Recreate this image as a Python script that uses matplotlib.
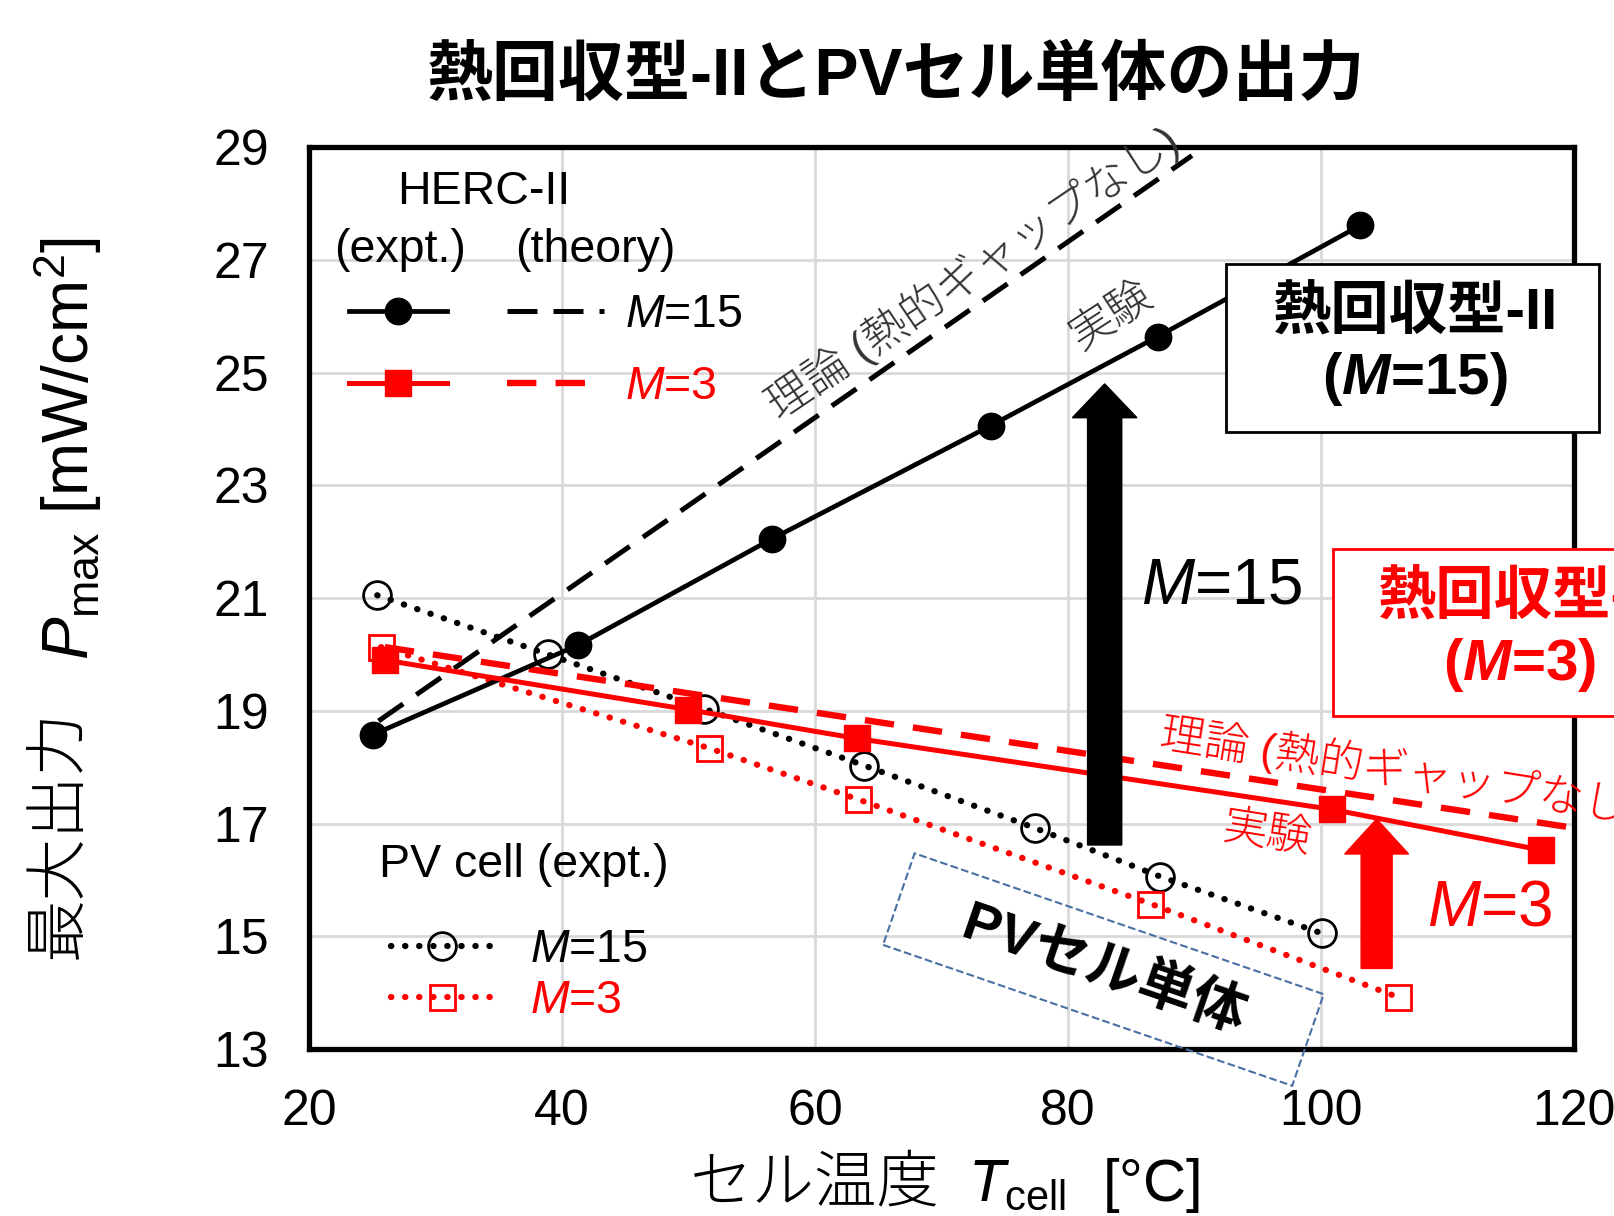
import matplotlib
matplotlib.use("Agg")
import matplotlib.pyplot as plt
from matplotlib.patches import Rectangle, FancyArrow

plt.rcParams['font.family'] = ['Liberation Sans', 'Noto Sans CJK JP']
plt.rcParams['mathtext.fontset'] = 'custom'
plt.rcParams['mathtext.rm'] = 'Liberation Sans'
plt.rcParams['mathtext.it'] = 'Liberation Sans:italic'
plt.rcParams['mathtext.bf'] = 'Liberation Sans:bold'
plt.rcParams['mathtext.bfit'] = 'Liberation Sans:bold:italic'

# HERC-II experiment / theory and PV cell alone (cell temperature vs Pmax)
herc15_t = [25.1, 41.3, 56.6, 73.9, 87.1, 103.1]
herc15_p = [18.58, 20.17, 22.05, 24.06, 25.64, 27.61]
herc3_t = [26.0, 50.0, 63.3, 100.9, 117.4]
herc3_p = [19.90, 19.02, 18.51, 17.25, 16.53]
theory15_t = [25.5, 89.8]
theory15_p = [18.82, 28.85]
theory3_t = [26.0, 119.8]
theory3_p = [20.13, 16.93]
pv15_t = [25.4, 38.9, 51.2, 63.9, 77.4, 87.3, 100.1]
pv15_p = [21.05, 20.00, 19.04, 18.03, 16.92, 16.06, 15.05]
pv3_t = [25.7, 51.6, 63.4, 86.5, 106.1]
pv3_p = [20.13, 18.34, 17.43, 15.58, 13.92]

x_ticks = [20, 40, 60, 80, 100, 120]
y_ticks = [13, 15, 17, 19, 21, 23, 25, 27, 29]

RED = '#ff0000'
LEG_FS = 33.5

fig = plt.figure(figsize=(16.15, 12.16), dpi=100)
ax = fig.add_axes([0.1913, 0.1373, 0.7833, 0.7417])

# pv cell alone
h_pv15, = ax.plot(pv15_t, pv15_p, color='k', ls=(0, (0.05, 2.2)), lw=4.5,
                  dash_capstyle='round', marker='o', ms=20, mfc='none', mec='k',
                  mew=2, zorder=3)
h_pv3, = ax.plot(pv3_t, pv3_p, color=RED, ls=(0, (0.05, 2.2)), lw=4.5,
                 dash_capstyle='round', marker='s', ms=18, mfc='none', mec=RED,
                 mew=2, zorder=3)

# theory
h_t15, = ax.plot(theory15_t, theory15_p, color='k', ls=(0, (6.0, 3.2)), lw=3.6, zorder=4)
h_t3, = ax.plot(theory3_t, theory3_p, color=RED, ls=(0, (4.6, 3.0)), lw=4.6, zorder=4)

# experiment
h_e15, = ax.plot(herc15_t, herc15_p, color='k', lw=3.4, marker='o', ms=19, zorder=5)
h_e3, = ax.plot(herc3_t, herc3_p, color=RED, lw=3.6, marker='s', ms=19, zorder=5)

ax.set_xlim(20, 120)
ax.set_ylim(13, 29)
ax.set_xticks(x_ticks)
ax.set_yticks(y_ticks)
ax.tick_params(length=0, pad=29, labelsize=36)
ax.grid(color='#d9d9d9', lw=2)
ax.set_axisbelow(True)
for s in ax.spines.values():
    s.set_linewidth(3.8)
    s.set_color('k')

# legends
ax.text(0.1383, 0.950, 'HERC-II', transform=ax.transAxes, fontsize=LEG_FS,
        ha='center', va='center')
ax.text(0.0719, 0.886, '(expt.)', transform=ax.transAxes, fontsize=LEG_FS,
        ha='center', va='center')
ax.text(0.226, 0.886, '(theory)', transform=ax.transAxes, fontsize=LEG_FS,
        ha='center', va='center')
leg1 = ax.legend([h_e15, h_e3, h_t15, h_t3], ['', '', '$M$=15', '$M$=3'], ncol=2,
                 loc='center left', bbox_to_anchor=(0.032, 0.7735), frameon=False,
                 fontsize=LEG_FS, handlelength=2.1, handletextpad=0.45,
                 columnspacing=0.83, labelspacing=0.6, borderpad=0, borderaxespad=0)
for t, c in zip(leg1.get_texts(), ['k', RED, 'k', RED]):
    t.set_color(c)
ax.add_artist(leg1)

ax.text(0.0553, 0.204, 'PV cell (expt.)', transform=ax.transAxes, fontsize=LEG_FS,
        ha='left', va='center')
leg2 = ax.legend([h_pv15, h_pv3], ['$M$=15', '$M$=3'], loc='center left',
                 bbox_to_anchor=(0.0648, 0.0815), frameon=False, fontsize=LEG_FS,
                 handlelength=2.2, handletextpad=0.78, labelspacing=0.16,
                 borderpad=0, borderaxespad=0)
for t, c in zip(leg2.get_texts(), ['k', RED]):
    t.set_color(c)

# annotations along lines
ax.text(72.5, 26.77, '理論 (熱的ギャップなし)', rotation=34, rotation_mode='anchor',
        ha='center', va='center', fontsize=32, color='#333333', fontweight='light',
        zorder=6)
ax.text(83.5, 26.0, '実験', rotation=33, rotation_mode='anchor', ha='center',
        va='center', fontsize=32, color='#333333', fontweight='light', zorder=6)
ax.text(87.3, 18.6, '理論 (熱的ギャップなし)', rotation=-9, rotation_mode='anchor',
        ha='left', va='center', fontsize=32, color=RED, fontweight='light', zorder=6,
        clip_on=False)
ax.text(95.7, 16.8, '実験', rotation=-9, rotation_mode='anchor', ha='center',
        va='center', fontsize=32, color=RED, fontweight='light', zorder=6)

# arrows
ax.add_patch(FancyArrow(82.9, 16.62, 0, 8.18, width=2.7, head_width=5.1, head_length=0.6,
                        length_includes_head=True, color='k', zorder=6))
ax.text(92.1, 21.2, '$M$=15', fontsize=46, ha='center', va='center', color='k', zorder=6)
ax.add_patch(FancyArrow(104.4, 14.43, 0, 2.65, width=2.45, head_width=5.05, head_length=0.62,
                        length_includes_head=True, color=RED, zorder=6))
ax.text(113.3, 15.5, '$M$=3', fontsize=46, ha='center', va='center', color=RED,
        zorder=6, clip_on=False)

# boxes
ax.add_patch(Rectangle((92.47, 23.94), 29.48, 2.98, facecolor='white', edgecolor='k',
                       lw=2, zorder=7, clip_on=False))
ax.text(107.4, 25.45, '熱回収型-II\n($\\mathbfit{M}$=15)', fontsize=42, fontweight='bold',
        ha='center', va='center', linespacing=1.2, zorder=8, clip_on=False)
ax.add_patch(Rectangle((100.94, 18.91), 30.0, 2.96, facecolor='white', edgecolor=RED,
                       lw=2, zorder=7, clip_on=False))
ax.text(115.7, 20.39, '熱回収型-II\n($\\mathbfit{M}$=3)', fontsize=42, fontweight='bold',
        ha='center', va='center', linespacing=1.2, color=RED, zorder=8, clip_on=False)

ax.text(82.8, 14.41, '   PVセル単体   ', rotation=-19, rotation_mode='anchor',
        ha='center', va='center', fontsize=40, fontweight='bold', zorder=8, clip_on=False,
        bbox=dict(boxstyle='square,pad=0.4', facecolor='none', edgecolor='#4a6fa5',
                  lw=1.5, ls='--'))

fig.text(0.555, 0.936, '熱回収型-IIとPVセル単体の出力', fontsize=47.5, fontweight='bold',
         ha='center', va='center')

# axis labels, CJK and math parts set apart
fig.text(0.0365, 0.314, '最大出力', fontsize=45, fontweight='light', rotation=90,
         ha='center', va='center')
fig.text(0.0418, 0.4572, '$P_{\\mathrm{max}}$ [mW/cm$^2$]', fontsize=46, rotation=90,
         ha='center', va='bottom')
fig.text(0.5817, 0.012, 'セル温度', fontsize=45, fontweight='light', ha='right',
         va='baseline')
fig.text(0.5995, 0.012, '$T_{\\mathrm{cell}}$  [°C]', fontsize=43, ha='left',
         va='baseline')

fig.savefig('out.png', dpi=100)
